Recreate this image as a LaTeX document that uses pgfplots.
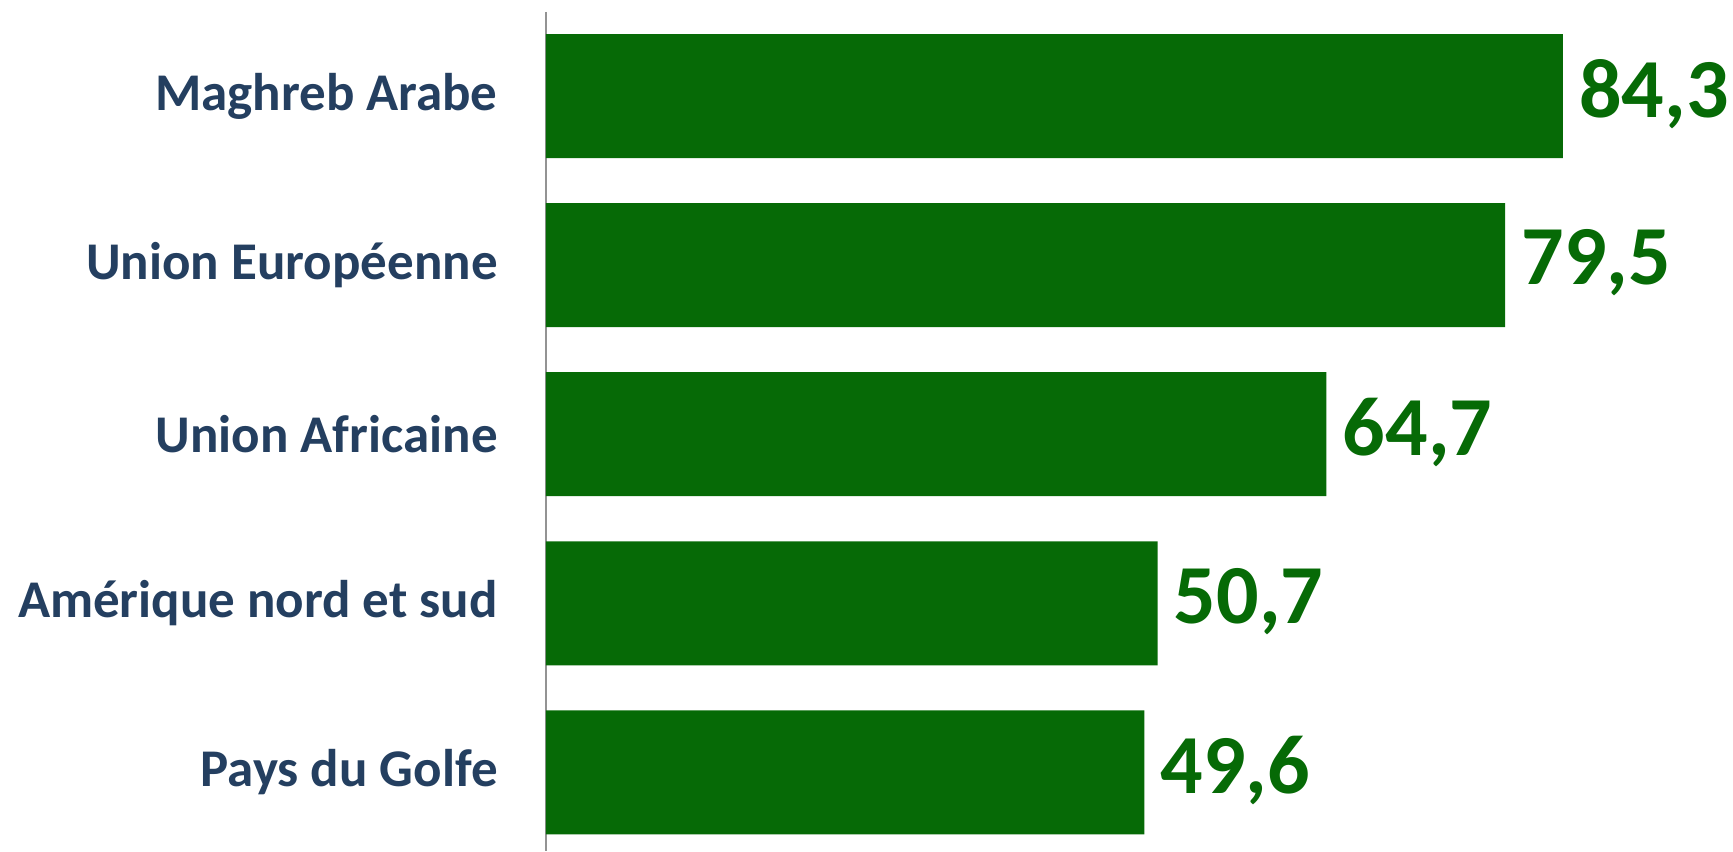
\documentclass[border=0pt]{standalone}
\usepackage{pgfplots}
\pgfplotsset{compat=1.18}
\usepackage{fontspec}
\setmainfont{Carlito}
\definecolor{bargreen}{RGB}{6,106,6}
\definecolor{labelblue}{RGB}{36,63,96}
\begin{document}
\begin{tikzpicture}
\begin{axis}[
    xbar, bar width=62pt,
    scale only axis, width=593.5pt, height=419.5pt,
    xmin=0, xmax=98.4, ymin=-0.497, ymax=4.465, y dir=reverse,
    axis x line=none, axis y line=left,
    y axis line style={-, draw=gray!85, line width=0.8pt},
    ytick={0,...,4},
    yticklabels={Maghreb Arabe, Union Européenne, Union Africaine, Amérique nord et sud, Pays du Golfe},
    major tick length=0pt,
    yticklabel style={font=\fontsize{26.5}{30}\selectfont\bfseries, color=labelblue, inner sep=0pt, xshift=-24pt},
    point meta=x,
    nodes near coords, nodes near coords align=horizontal,
    nodes near coords style={font=\fontsize{42}{48}\selectfont\bfseries, color=bargreen, anchor=west, inner sep=0pt, xshift=8pt, yshift=1pt},
    /pgf/number format/.cd, use comma, fixed, fixed zerofill, precision=1, assume math mode=true,
]
\addplot[fill=bargreen, draw=none] coordinates {
    (84.3,0)
    (79.5,1)
    (64.7,2)
    (50.7,3)
    (49.6,4)
};
\end{axis}
\pgfresetboundingbox
\path ([xshift=-273pt]current axis.south west) rectangle ([yshift=6pt]current axis.north east);
\end{tikzpicture}
\end{document}
